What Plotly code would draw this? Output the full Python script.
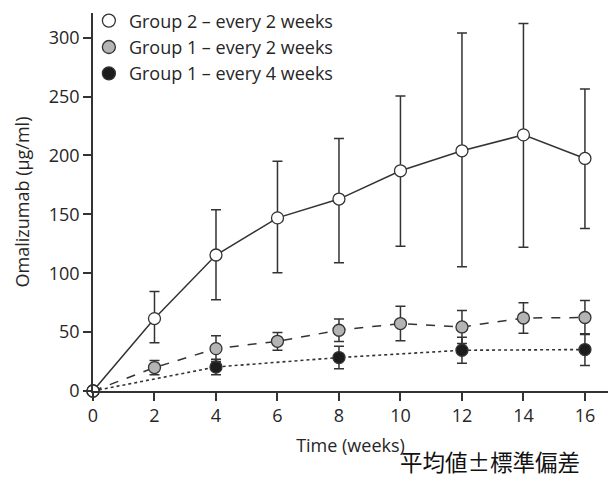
import plotly.graph_objects as go

weeks = [0, 2, 4, 6, 8, 10, 12, 14, 16]
g2_mean = [0, 61.5, 115.5, 147, 163, 187, 204, 217.5, 197.5]
g2_plus = [0, 23, 38.5, 48, 51.5, 63.5, 100, 94.5, 59]
g2_minus = [0, 20.5, 38, 46.5, 54, 64, 98.5, 95.5, 59.5]

g1w2_weeks = [0, 2, 4, 6, 8, 10, 12, 14, 16]
g1w2_mean = [0, 19.9, 36, 42.2, 51.6, 57.3, 54.4, 62, 62.4]
g1w2_err = [0, 6, 11, 7.5, 9.5, 14.7, 14, 13, 14.5]

g1w4_weeks = [0, 4, 8, 12, 16]
g1w4_mean = [0, 20.4, 28.4, 34.6, 35.2]
g1w4_err = [0, 6.5, 9.5, 11, 13.5]

names = ["Group 2 – every 2 weeks", "Group 1 – every 2 weeks", "Group 1 – every 4 weeks"]
x_ticks = [0, 2, 4, 6, 8, 10, 12, 14, 16]
y_ticks = [0, 50, 100, 150, 200, 250, 300]

FONT = "Open Sans"
DARK = "#333333"
TXT = "#262626"

fig = go.Figure()

def add_series(x, y, eplus, eminus, dash, fill, name, lw):
    fig.add_trace(go.Scatter(
        x=x, y=y, mode="lines+markers", name=name, showlegend=False,
        line=dict(color=DARK, width=lw, dash=dash),
        marker=dict(size=12, color=fill, line=dict(color=DARK, width=1.3)),
        error_y=dict(type="data", symmetric=False, array=eplus, arrayminus=eminus,
                     color=DARK, thickness=1.5, width=5),
        cliponaxis=False,
    ))

add_series(g1w4_weeks, g1w4_mean, g1w4_err, g1w4_err, "dot", "#1c1c1c", names[2], 1.6)
add_series(g1w2_weeks, g1w2_mean, g1w2_err, g1w2_err, "dash", "#b4b4b4", names[1], 1.5)
add_series(weeks, g2_mean, g2_plus, g2_minus, "solid", "white", names[0], 1.5)

for name, fill in zip(names, ["white", "#b4b4b4", "#1c1c1c"]):
    fig.add_trace(go.Scatter(
        x=[None], y=[None], mode="markers", name=name, legendgroup=name,
        marker=dict(size=13, color=fill, line=dict(color=DARK, width=1.3)),
    ))

fig.update_layout(
    width=608, height=479,
    margin=dict(l=93, r=0, t=13, b=88),
    plot_bgcolor="white", paper_bgcolor="white",
    font=dict(family=FONT, size=18, color=TXT),
    showlegend=True,
    legend=dict(x=-0.008, y=1.028, xanchor="left", yanchor="top",
                bgcolor="rgba(0,0,0,0)", borderwidth=0,
                font=dict(family=FONT, size=18, color=TXT),
                traceorder="normal", tracegroupgap=2),
    xaxis=dict(range=[0, 16.75], tickvals=x_ticks, ticks="outside", ticklen=8,
               tickwidth=1.5, tickcolor=DARK, showline=True, linecolor=DARK,
               linewidth=1.5, showgrid=False, zeroline=False,
               tickfont=dict(family=FONT, size=18, color=TXT),
               title=dict(text="Time (weeks)", standoff=13,
                          font=dict(family=FONT, size=18, color=TXT))),
    yaxis=dict(range=[0, 321], tickvals=y_ticks, ticks="outside", ticklen=8,
               tickwidth=1.5, tickcolor=DARK, showline=True, linecolor=DARK,
               linewidth=1.5, showgrid=False, zeroline=False,
               tickfont=dict(family=FONT, size=18, color=TXT),
               title=dict(text="Omalizumab (µg/ml)", standoff=14,
                          font=dict(family=FONT, size=18, color=TXT))),
)

fig.add_annotation(text="平均値±標準偏差", xref="paper", yref="paper",
                   x=1.0, y=-0.16, xanchor="right", yanchor="top", showarrow=False,
                   xshift=-27, yshift=7, borderpad=0,
                   font=dict(family="Noto Sans CJK JP", size=22.5, color="#111111"))

fig.write_html("out.html")
